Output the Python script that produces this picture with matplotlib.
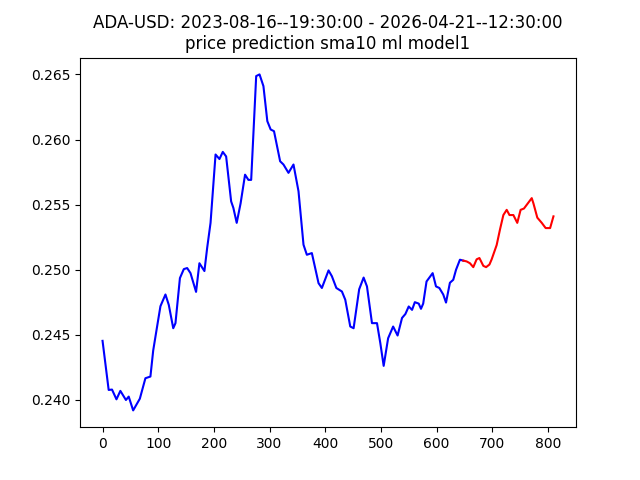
import numpy as np
import matplotlib
matplotlib.use("Agg")
import matplotlib.pyplot as plt

# serie storica (sma10)
hist_x = [0, 11, 17, 25, 32, 42, 47, 55, 67, 77, 86, 91, 98, 104, 113, 119, 127, 131,
          139, 146, 152, 158, 168, 174, 183, 188, 194, 203, 210, 216, 222, 231, 235,
          241, 248, 256, 262, 267, 276, 282, 289, 296, 302, 308, 319, 325, 334, 343,
          352, 361, 367, 376, 388, 394, 406, 412, 420, 430, 436, 445, 451, 461, 469,
          475, 484, 493, 499, 505, 513, 522, 530, 538, 544, 550, 556, 561, 568, 572,
          576, 582, 593, 599, 605, 612, 617, 624, 630, 635, 642, 648]
hist_y = [0.24454, 0.24077, 0.2408, 0.24005, 0.2407, 0.2400, 0.24026, 0.2392, 0.2401,
          0.24167, 0.2418, 0.2438, 0.24564, 0.2472, 0.2481, 0.2473, 0.24551, 0.2459,
          0.24936, 0.25005, 0.25013, 0.24974, 0.2483, 0.2505, 0.2499, 0.2517, 0.2536,
          0.25885, 0.2585, 0.25905, 0.2587, 0.25525, 0.25475, 0.2536, 0.2551, 0.2573,
          0.2569, 0.2569, 0.26487, 0.2650, 0.2641, 0.26141, 0.26077, 0.26064, 0.25833,
          0.25808, 0.25744, 0.25808, 0.25603, 0.25192, 0.25115, 0.25128, 0.24897,
          0.2486, 0.24995, 0.2495, 0.2486, 0.24833, 0.2477, 0.24564, 0.24551, 0.2485,
          0.2494, 0.24872, 0.2459, 0.2459, 0.24436, 0.24262, 0.24474, 0.24564, 0.24495,
          0.2463, 0.2466, 0.24718, 0.24692, 0.24751, 0.2474, 0.2470, 0.2474, 0.2491,
          0.24974, 0.24872, 0.2486, 0.2481, 0.24748, 0.2490, 0.24923, 0.2500, 0.25077,
          0.2507]

# previsione del modello
pred_x = [648, 654, 660, 666, 672, 677, 684, 689, 695, 699, 708, 714, 720, 726, 731,
          738, 745, 751, 757, 764, 771, 774, 781, 789, 796, 804, 806, 810]
pred_y = [0.2507, 0.25064, 0.2505, 0.2502, 0.2508, 0.2509, 0.2503, 0.2502, 0.2504,
          0.2508, 0.2519, 0.2531, 0.2542, 0.2546, 0.2542, 0.2542, 0.2536, 0.2546,
          0.2547, 0.2551, 0.2555, 0.2551, 0.2540, 0.2536, 0.2532, 0.2532, 0.2535,
          0.2541]

title = "ADA-USD: 2023-08-16--19:30:00 - 2026-04-21--12:30:00\nprice prediction sma10 ml model1"

plt.figure(figsize=(6.4, 4.8), dpi=100)
plt.plot(hist_x, hist_y, color='blue')
plt.plot(pred_x, pred_y, color='red')
plt.title(title)
plt.savefig("out.png")
